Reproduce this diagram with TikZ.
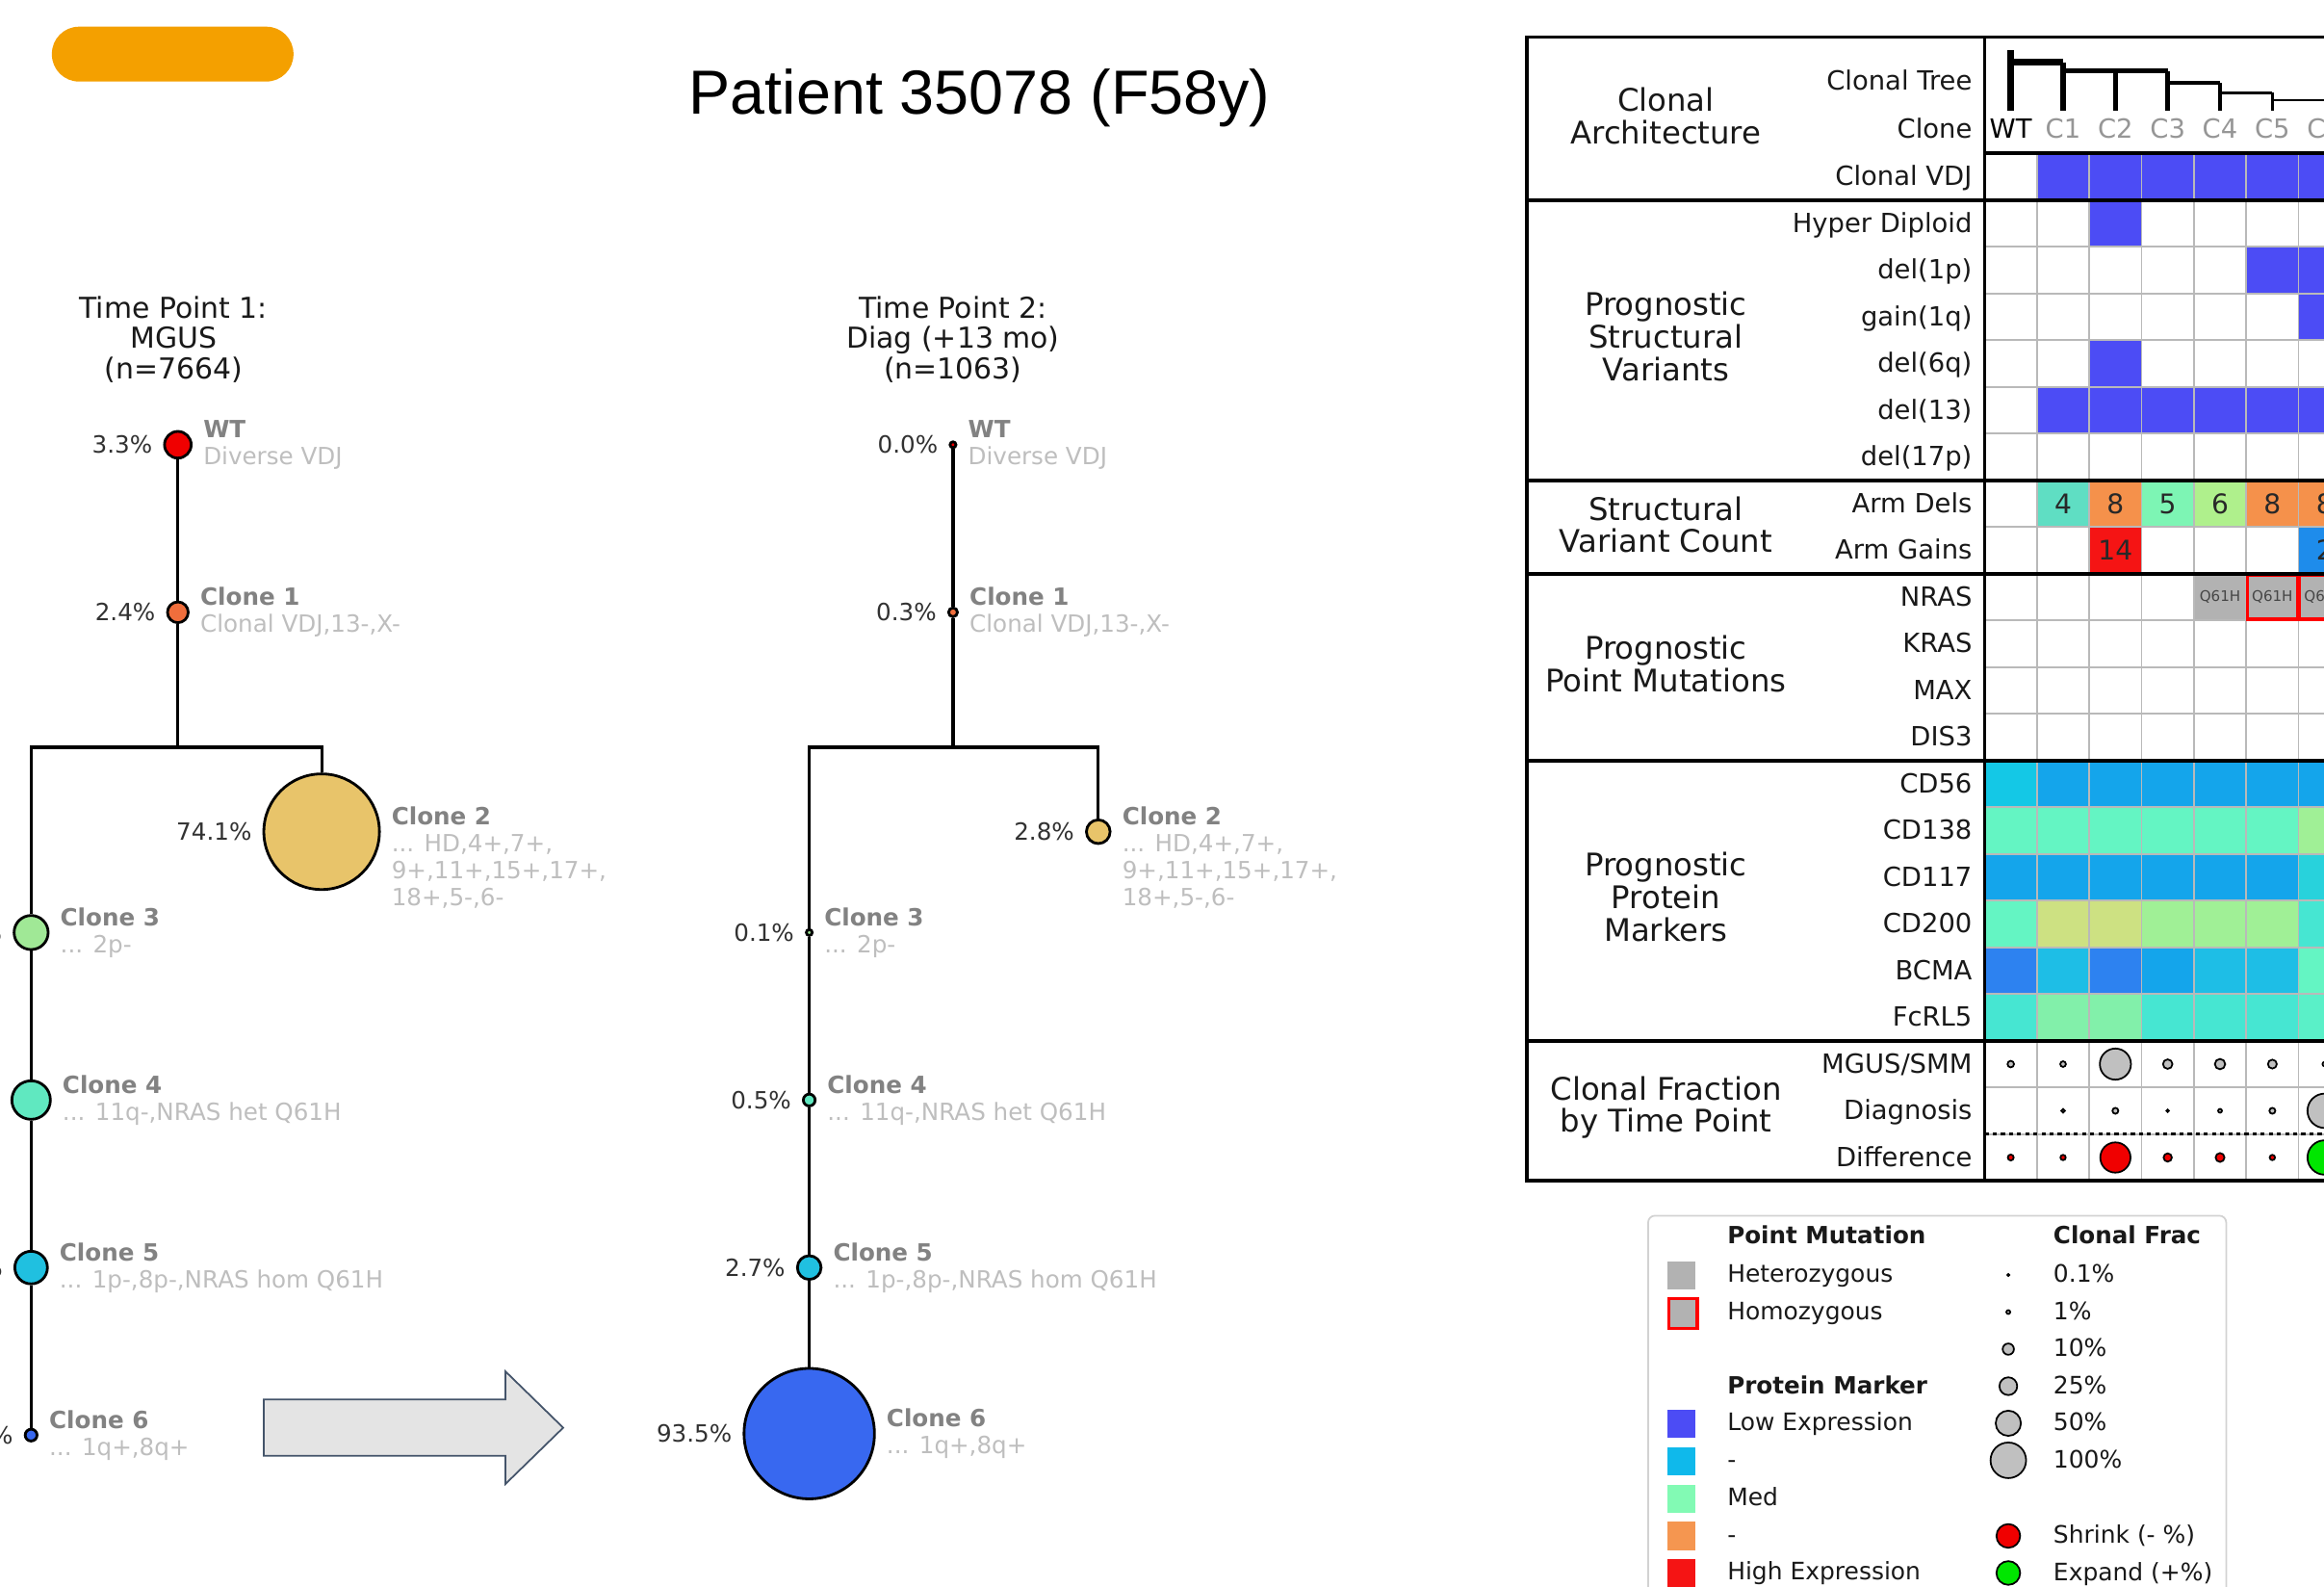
\documentclass[tikz,border=0pt]{standalone}
\usepackage{fontspec}
\setmainfont{DejaVu Sans}
\newfontfamily\titlefont{Liberation Sans}
\usetikzlibrary{positioning,calc}
\newcommand\threedots{...}
\tikzset{
  clone/.style={circle, draw=black, line width=0.8pt, inner sep=0pt, minimum size=#1*0.876pt},
  treeline/.style={line width=0.9pt},
  pct/.style={inner sep=0pt, text=pctgray, font=\fontsize{7}{8}\selectfont},
  lbl/.style={inner sep=0pt, align=left, text=descgray, font=\fontsize{7}{8}\selectfont},
  tpoint/.style={inner sep=0pt, align=center, text=tpgray, font=\fontsize{8.5}{9}\selectfont},
  seclab/.style={inner sep=0pt, align=center, text=tpgray, font=\fontsize{9.2}{9.6}\selectfont},
  rowlab/.style={inner sep=0pt, anchor=base east, text=tpgray, font=\fontsize{7.8}{9}\selectfont},
  collab/.style={inner sep=0pt, anchor=base, font=\fontsize{7.8}{9}\selectfont},
  cellnum/.style={inner sep=0pt, text=numgray, font=\fontsize{8}{9}\selectfont},
  mut/.style={inner sep=0pt, text=mutgray, font=\fontsize{4.3}{5}\selectfont},
  gridl/.style={draw=gridgray, line width=0.5pt},
  tabframe/.style={line width=1.1pt},
  fracdot/.style={draw=black, line width=0.5pt},
  legtxt/.style={inner sep=0pt, anchor=base west, text=tpgray, font=\fontsize{7.1}{8}\selectfont},
  leghead/.style={legtxt, font=\fontsize{7}{8}\selectfont\bfseries},
}
\begin{document}
\begin{tikzpicture}[x=0.015395cm, y=-0.015395cm]
\definecolor{pillorange}{RGB}{244,160,0}
\definecolor{pctgray}{RGB}{50,50,50}
\definecolor{namegray}{RGB}{130,130,130}
\definecolor{descgray}{RGB}{190,190,190}
\definecolor{tpgray}{RGB}{25,25,25}
\definecolor{wtred}{RGB}{240,0,0}
\definecolor{c1orange}{RGB}{240,110,60}
\definecolor{c2gold}{RGB}{232,196,106}
\definecolor{c3green}{RGB}{160,232,150}
\definecolor{c4aqua}{RGB}{96,232,192}
\definecolor{c5cyan}{RGB}{32,192,224}
\definecolor{c6blue}{RGB}{56,104,240}
\definecolor{arrowfill}{RGB}{228,228,228}
\definecolor{arrowedge}{RGB}{68,84,106}
\definecolor{vdjblue}{RGB}{76,76,245}
\definecolor{gridgray}{RGB}{185,185,185}
\definecolor{numgray}{RGB}{40,40,40}
\definecolor{mutgray}{RGB}{70,70,70}
\definecolor{hetgray}{RGB}{178,178,178}
\definecolor{fracgray}{RGB}{192,192,192}
\definecolor{shrinkred}{RGB}{240,0,0}
\definecolor{expandgreen}{RGB}{0,230,0}
\definecolor{clonegray}{RGB}{150,150,150}
\definecolor{legedge}{RGB}{210,210,210}
\definecolor{armaqua}{RGB}{95,222,195}
\definecolor{armorange}{RGB}{245,145,75}
\definecolor{armmint}{RGB}{125,245,180}
\definecolor{armlime}{RGB}{175,240,140}
\definecolor{armred}{RGB}{245,20,20}
\definecolor{armblue}{RGB}{30,140,235}
\definecolor{pmA}{RGB}{20,200,230}
\definecolor{pmB}{RGB}{20,165,235}
\definecolor{pmC}{RGB}{45,130,240}
\definecolor{pmD}{RGB}{100,245,195}
\definecolor{pmE}{RGB}{70,230,210}
\definecolor{pmF}{RGB}{160,240,150}
\definecolor{pmG}{RGB}{205,225,130}
\definecolor{pmH}{RGB}{130,240,170}
\definecolor{pmI}{RGB}{90,240,200}
\definecolor{pmJ}{RGB}{30,190,230}
\definecolor{pmK}{RGB}{40,210,220}
\definecolor{legcyan}{RGB}{15,185,235}
\definecolor{legmed}{RGB}{130,250,180}
\definecolor{legorange}{RGB}{245,150,80}
\useasboundingbox (0,0) rectangle (1568,1070);
\fill[pillorange, rounded corners=8pt] (35,18) rectangle (198,55);
\node[anchor=base, inner sep=0pt, font=\titlefont\fontsize{18.4}{22}\selectfont] (title) at (661,77) {Patient 35078 (F58y)};
\node[tpoint] (tp1) at (117,229) {Time Point 1:\\MGUS\\(n=7664)};
\node[tpoint] (tp2) at (643,229) {Time Point 2:\\Diag (+13 mo)\\(n=1063)};
\foreach \nd/\x/\y/\r/\col in {t1wt/120/300/9/wtred, t1c1/120/413/7/c1orange, t1c2/217/561/39/c2gold, t1c3/21/629/11.5/c3green, t1c4/21/742/13/c4aqua, t1c5/21/855/11/c5cyan, t1c6/21/968/4/c6blue, t2wt/643/300/2/wtred, t2c1/643/413/3/c1orange, t2c2/741/561/8/c2gold, t2c3/546/629/2/c3green, t2c4/546/742/4/c4aqua, t2c5/546/855/8/c5cyan, t2c6/546/967/44/c6blue}
  \node[clone=\r, fill=\col] (\nd) at (\x,\y) {};
\coordinate (t1br) at (120,504);
\coordinate (t2br) at (643,504);
\draw[treeline] (t1wt) -- (t1c1) -- (t1br);
\draw[treeline] (t1br) -| (t1c2);
\draw[treeline] (t1br) -| (t1c3);
\draw[treeline] (t1c3) -- (t1c4) -- (t1c5) -- (t1c6);
\draw[treeline] (t2wt) -- (t2c1) -- (t2br);
\draw[treeline] (t2br) -| (t2c2);
\draw[treeline] (t2br) -| (t2c3);
\draw[treeline] (t2c3) -- (t2c4) -- (t2c5) -- (t2c6);
\foreach \nd/\pc/\nm/\ds in {t1wt/3.3/WT/Diverse VDJ, t1c1/2.4/Clone 1/{Clonal VDJ,13-,X-}, t1c3//Clone 3/\threedots{} 2p-, t1c4//Clone 4/{\threedots{} 11q-,NRAS het Q61H}, t1c5//Clone 5/{\threedots{} 1p-,8p-,NRAS hom Q61H}, t1c6//Clone 6/{\threedots{} 1q+,8q+}, t2wt/0.0/WT/Diverse VDJ, t2c1/0.3/Clone 1/{Clonal VDJ,13-,X-}, t2c3/0.1/Clone 3/\threedots{} 2p-, t2c4/0.5/Clone 4/{\threedots{} 11q-,NRAS het Q61H}, t2c5/2.7/Clone 5/{\threedots{} 1p-,8p-,NRAS hom Q61H}, t2c6/93.5/Clone 6/{\threedots{} 1q+,8q+}}{
  \node[pct, left=3pt of \nd] (\nd-p) {\pc\%};
  \node[lbl, right=3pt of \nd] (\nd-l) {{\bfseries\color{namegray}\nm}\\\ds};
}
\node[pct, left=3pt of t1c2] (t1c2-p) {74.1\%};
\node[lbl, right=3pt of t1c2, yshift=-7.7pt] (t1c2-l) {{\bfseries\color{namegray}Clone 2}\\... HD,4+,7+,\\9+,11+,15+,17+,\\18+,5-,6-};
\node[pct, left=3pt of t2c2] (t2c2-p) {2.8\%};
\node[lbl, right=3pt of t2c2, yshift=-7.7pt] (t2c2-l) {{\bfseries\color{namegray}Clone 2}\\... HD,4+,7+,\\9+,11+,15+,17+,\\18+,5-,6-};
\draw[draw=arrowedge, fill=arrowfill, line width=0.5pt] (178,944) -- (341,944) -- (341,925) -- (380,963) -- (341,1001) -- (341,982) -- (178,982) -- cycle;
\foreach \r in {0,5}{
\foreach \c in {1,...,6}
  \fill[vdjblue] (1339+35.3*\c,103.5+31.5*\r) rectangle ++(35.3,31.5);
}
\foreach \c/\r in {2/1, 5/2, 6/2, 6/3, 2/4}
  \fill[vdjblue] (1339+35.3*\c,103.5+31.5*\r) rectangle ++(35.3,31.5);
\foreach \r/\cols in {13/{pmA,pmB,pmB,pmB,pmB,pmB,pmB}, 14/{pmD,pmD,pmD,pmD,pmD,pmD,pmF}, 15/{pmB,pmB,pmB,pmB,pmB,pmB,pmK}, 16/{pmD,pmG,pmG,pmF,pmF,pmF,pmE}, 17/{pmC,pmJ,pmC,pmB,pmJ,pmJ,pmD}, 18/{pmE,pmH,pmH,pmE,pmE,pmE,pmI}}{
\foreach \col [count=\c from 0] in \cols
  \fill[\col] (1339+35.3*\c,103.5+31.5*\r) rectangle ++(35.3,31.5);
}
\foreach \c in {4,5,6}
  \fill[hetgray] (1339+35.3*\c,387) rectangle ++(35.3,31.5);
\foreach \c/\r/\col in {1/7/armaqua, 2/7/armorange, 3/7/armmint, 4/7/armlime, 5/7/armorange, 6/7/armorange, 2/8/armred, 6/8/armblue}
  \fill[\col] (1339+35.3*\c,103.5+31.5*\r) rectangle ++(35.3,31.5);
\foreach \i in {1,...,7}
  \draw[gridl] (1339+35.3*\i,103.5) -- (1339+35.3*\i,796.5);
\foreach \j in {1,...,21}
  \draw[gridl] (1339,103.5+31.5*\j) -- (1600,103.5+31.5*\j);
\foreach \c/\r/\nm in {1/7/4, 2/7/8, 3/7/5, 4/7/6, 5/7/8, 6/7/8, 2/8/14, 6/8/2}
  \node[cellnum] (arm\c\r) at (1356.65+35.3*\c,119.25+31.5*\r) {\nm};
\foreach \c in {5,6}
  \draw[red, line width=0.9pt] (1339.8+35.3*\c,387.8) rectangle ++(33.7,29.9);
\foreach \c in {4,5,6}
  \node[mut] (nras\c) at (1356.65+35.3*\c,402.75) {Q61H};
\foreach \c/\r/\rad/\col in {0/19/2.2/fracgray, 1/19/1.9/fracgray, 2/19/10.5/fracgray, 3/19/3.2/fracgray, 4/19/3.5/fracgray, 5/19/3/fracgray, 6/19/1.5/fracgray, 1/20/1.2/fracgray, 2/20/2/fracgray, 3/20/0.8/fracgray, 4/20/1.3/fracgray, 5/20/2/fracgray, 6/20/11.6/fracgray, 0/21/2/shrinkred, 1/21/1.8/shrinkred, 2/21/10.2/shrinkred, 3/21/2.8/shrinkred, 4/21/3/shrinkred, 5/21/1.8/shrinkred, 6/21/11.6/expandgreen}
  \draw[fracdot, fill=\col] (1356.65+35.3*\c,119.25+31.5*\r) circle (\rad);
\draw[line width=0.8pt, dash pattern=on 1.2pt off 1.2pt] (1339,765) -- (1600,765);
\foreach \xa/\ya/\xb/\yb/\w in {1356.6/34/1356.6/75/2, 1356.6/42/1392/42/1.8, 1392/42/1392/75/1.6, 1392/48/1462.6/48/1.4, 1427.3/48/1427.3/75/1.4, 1462.6/48/1462.6/75/1.3, 1462.6/56/1497.9/56/1.1, 1497.9/56/1497.9/75/1.1, 1497.9/62.5/1533.2/62.5/0.8, 1533.2/62.5/1533.2/75/0.8, 1533.2/67.5/1600/67.5/0.5}
  \draw[line width=\w pt] (\xa,\ya) -- (\xb,\yb);
\foreach \nm/\col [count=\c from 0] in {WT/black, C1/clonegray, C2/clonegray, C3/clonegray, C4/clonegray, C5/clonegray, C6/clonegray}
  \node[collab, text=\col] (col\c) at (1356.65+35.3*\c,93) {\nm};
\draw[tabframe] (1600,25) -- (1030,25) -- (1030,796.5) -- (1600,796.5);
\draw[tabframe] (1339,25) -- (1339,796.5);
\draw[tabframe] (1339,103.5) -- (1600,103.5);
\foreach \yy in {135,324,387,513,702}
  \draw[tabframe] (1030,\yy) -- (1600,\yy);
\node[rowlab] (treelab) at (1331,61) {Clonal Tree};
\node[rowlab] (clonelab) at (1331,93) {Clone};
\foreach \nm [count=\j from 0] in {Clonal VDJ, Hyper Diploid, del(1p), gain(1q), del(6q), del(13), del(17p), Arm Dels, Arm Gains, NRAS, KRAS, MAX, DIS3, CD56, CD138, CD117, CD200, BCMA, FcRL5, MGUS/SMM, Diagnosis, Difference}
  \node[rowlab] (row\j) at (1331,125.25+31.5*\j) {\nm};
\node[seclab] (secarch) at (1124,78) {Clonal\\Architecture};
\node[seclab] (secsv) at (1124,227) {Prognostic\\Structural\\Variants};
\node[seclab] (seccount) at (1124,354) {Structural\\Variant Count};
\node[seclab] (secpoint) at (1124,448) {Prognostic\\Point Mutations};
\node[seclab] (secprot) at (1124,605) {Prognostic\\Protein\\Markers};
\node[seclab] (secfrac) at (1124,747) {Clonal Fraction\\by Time Point};
\draw[draw=legedge, line width=0.5pt, rounded corners=2pt] (1112,820) rectangle (1502,1090);
\node[leghead] (legpm) at (1165,839) {Point Mutation};
\node[leghead] (legcf) at (1385,839) {Clonal Frac};
\fill[hetgray] (1125,851) rectangle (1144,870);
\node[legtxt] (leghet) at (1165,865) {Heterozygous};
\draw[red, line width=1pt, fill=hetgray] (1126,876) rectangle (1145,896);
\node[legtxt] (leghom) at (1165,890) {Homozygous};
\node[leghead] (legprot) at (1165,940) {Protein Marker};
\foreach \col/\nm [count=\k from 0] in {vdjblue/Low Expression, legcyan/-, legmed/Med, legorange/-, armred/High Expression}{
  \fill[\col] (1125,951+25.2*\k) rectangle ++(19,19);
  \node[legtxt] (legexp\k) at (1165,965+25.2*\k) {\nm};
}
\foreach \rad/\nm [count=\k from 0] in {0.6/0.1\%, 1.3/1\%, 3.8/10\%, 6/25\%, 8.5/50\%, 12/100\%}{
  \draw[fracdot, fill=fracgray] (1355,860+25*\k) circle (\rad);
  \node[legtxt] (legfrac\k) at (1385,865+25*\k) {\nm};
}
\draw[fracdot, fill=shrinkred] (1355,1036) circle (8);
\node[legtxt] (legshrink) at (1385,1041) {Shrink (- \%)};
\draw[fracdot, fill=expandgreen] (1355,1061) circle (8);
\node[legtxt] (legexpand) at (1385,1066) {Expand (+\%)};
\end{tikzpicture}
\end{document}
